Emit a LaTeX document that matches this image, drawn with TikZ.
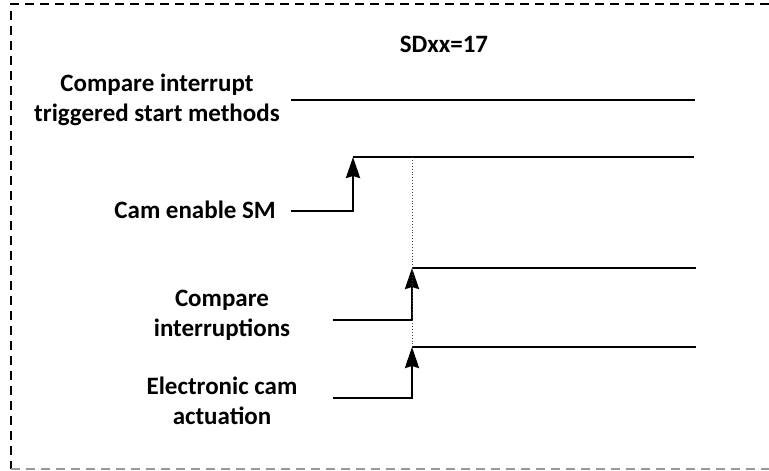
\documentclass[tikz,border=0pt]{standalone}
\usepackage{fontspec}
\setmainfont{Carlito}
\usetikzlibrary{arrows.meta}
\begin{document}
\begin{tikzpicture}[x=1pt,y=-1pt,
  lbl/.style={font=\bfseries\fontsize{25}{30}\selectfont, align=center, inner sep=0pt},
  sig/.style={line width=2.5pt},
  rise/.style={line width=2.5pt, -{Stealth[length=21pt,width=14pt,inset=2pt]}},
  guide/.style={line width=0.9pt, dotted, black!75},
  frame/.style={line width=1.2pt, dash pattern=on 9pt off 6pt}]
\useasboundingbox (0,0) rectangle (769,471);
% frame
\coordinate (f1) at (769,4);
\coordinate (f2) at (11,4);
\coordinate (f3) at (11,469);
\coordinate (f4) at (769,469);
\draw[frame] (f1) -- (f2) -- (f3);
\draw[frame, black!40] (f3) -- (f4);
% labels
\node[lbl] (sd) at (444,44) {SDxx=17};
\node[lbl] (cmpint) at (157,100) {Compare interrupt\\triggered start methods};
\node[lbl, anchor=east] (cam) at (276,210) {Cam enable SM};
\node[lbl] (cmp) at (222,315) {Compare\\interruptions};
\node[lbl] (ele) at (222,401) {Electronic cam\\actuation};
% signal 0
\coordinate (s0a) at (291,100);
\coordinate (s0b) at (695,100);
\draw[sig] (s0a) -- (s0b);
% signal 1
\coordinate (s1a) at (291,211);
\coordinate (s1t) at (353,157);
\coordinate (s1b) at (694,157);
\draw[rise] (s1a) -| (s1t);
\draw[sig] (s1t) -- (s1b);
% signal 2
\coordinate (s2a) at (333,320);
\coordinate (s2t) at (412,268);
\coordinate (s2b) at (696,268);
\draw[rise] (s2a) -| (s2t);
\draw[sig] (s2t) -- (s2b);
% signal 3
\coordinate (s3a) at (333,398);
\coordinate (s3t) at (412,347);
\coordinate (s3b) at (696,347);
\draw[rise] (s3a) -| (s3t);
\draw[sig] (s3t) -- (s3b);
% guide
\coordinate (g1) at (412,157);
\draw[guide] (g1) -- (s2t);
\draw[guide] (s2t) -- (s3t);
\end{tikzpicture}
\end{document}
